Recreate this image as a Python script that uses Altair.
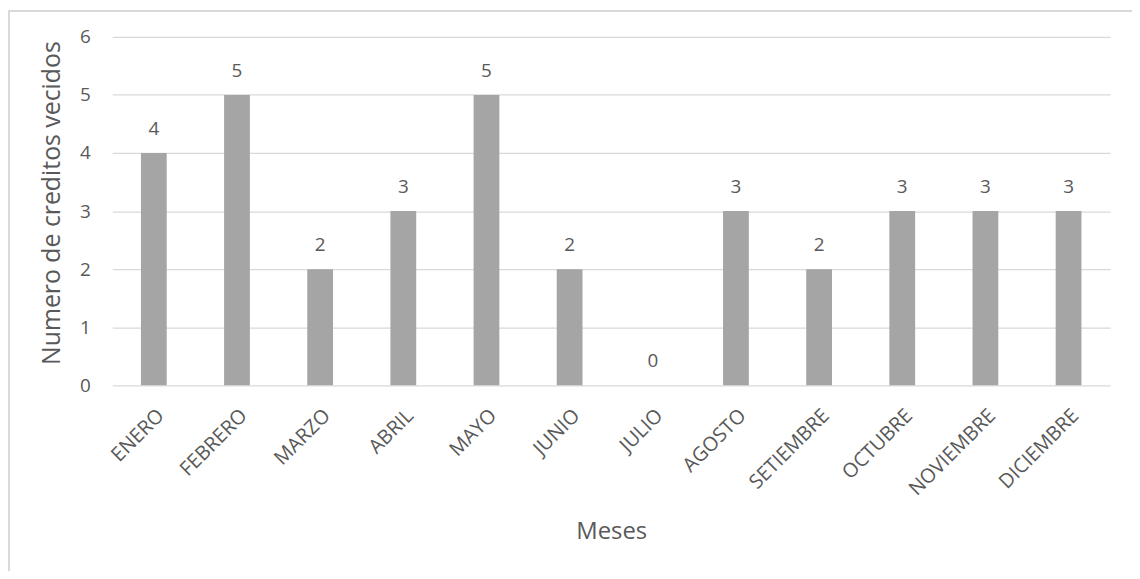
import altair as alt
import pandas as pd

meses = ["ENERO", "FEBRERO", "MARZO", "ABRIL", "MAYO", "JUNIO", "JULIO",
         "AGOSTO", "SETIEMBRE", "OCTUBRE", "NOVIEMBRE", "DICIEMBRE"]
creditos = [4, 5, 2, 3, 5, 2, 0, 3, 2, 3, 3, 3]

df = pd.DataFrame({"mes": meses, "valor": creditos})

W, H = 1005, 351
FONT = "Open Sans"
TXT = "#595959"

x = alt.X("mes:N", sort=meses, title="Meses",
          scale=alt.Scale(paddingInner=0.69, paddingOuter=0.345),
          axis=alt.Axis(labelAngle=-45, labelAlign="right", labelBaseline="top",
                        labelFontSize=20, labelColor=TXT, labelFont=FONT,
                        labelPadding=20, ticks=False, domain=False,
                        titleFontSize=24, titleColor=TXT, titleFont=FONT,
                        titleFontWeight="normal", titleY=147, titleBaseline="middle"))
y = alt.Y("valor:Q", title="Numero de creditos vecidos",
          scale=alt.Scale(domain=[0, 6], nice=False),
          axis=alt.Axis(values=[0, 1, 2, 3, 4, 5, 6], format="d", labelFontSize=19,
                        labelColor=TXT, labelFont=FONT, labelPadding=22, ticks=False,
                        domain=False, gridColor="#D9D9D9", gridWidth=1.3,
                        titleFontSize=25, titleColor=TXT, titleFont=FONT,
                        titleFontWeight="normal", titleX=-61, titleY=167,
                        titleBaseline="middle"))

base = alt.Chart(df)
bars = base.mark_bar(color="#A5A5A5").encode(x=x, y=y)
labels = base.mark_text(dy=-24, fontSize=19, color=TXT, font=FONT, baseline="middle").encode(
    x=alt.X("mes:N", sort=meses), y="valor:Q", text="valor:Q")
border = alt.Chart(pd.DataFrame({"a": [0]})).mark_rect(
    fill=None, stroke="#D9D9D9", strokeWidth=2).encode(
    x=alt.value(-104), x2=alt.value(W + 60), y=alt.value(-26), y2=alt.value(H + 260))

chart = alt.layer(border, bars, labels).properties(
    width=W, height=H,
    padding={"left": 105, "top": 27, "right": 22, "bottom": 185},
    autosize=alt.AutoSizeParams(type="none"),
).configure_view(stroke=None)

chart.save("out.html", embed_options={"renderer": "svg", "actions": False})
